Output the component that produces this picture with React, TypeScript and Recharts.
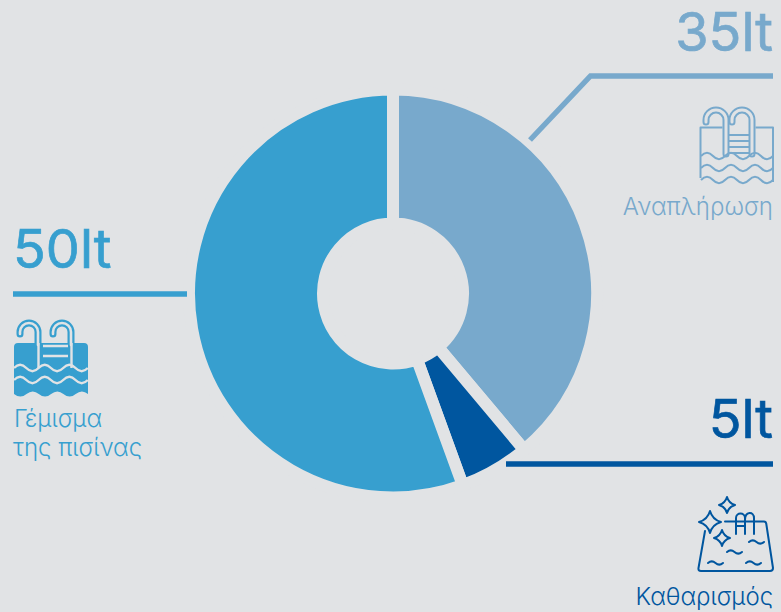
import React from 'react';
import { PieChart, Pie, Cell } from 'recharts';

const categories = ['Αναπλήρωση', 'Καθαρισμός', 'Γέμισμα της πισίνας'];
const litres = [35, 5, 50];
const unit = 'lt';
const colors = ['#78A9CC', '#00569F', '#379FCF'];
const BG = '#E1E3E5';
const FONT = 'Inter, "Liberation Sans", Arial, sans-serif';

const pieData = categories.map((name, i) => ({ name, value: litres[i] }));

const waveLine = (x0: number, y: number, n: number, w: number, a = 3.2) => {
  let d = `M${x0} ${y}`;
  for (let i = 0; i < n; i++) {
    const s = i % 2 === 0 ? -a : a;
    d += ` q${w / 2} ${s * 2} ${w} 0`;
  }
  return d;
};

// ladder handle drawn as a hollow tube
const Tube = ({ d, color, w = 7, inner = 3 }: any) => (
  <g fill="none" strokeLinecap="round">
    <path d={d} stroke={color} strokeWidth={w} />
    <path d={d} stroke={BG} strokeWidth={inner} />
  </g>
);

// outlined pool with ladder
const PoolOutline = ({ color }: { color: string }) => (
  <g>
    <Tube color={color} d="M726 154 V120 A10 10 0 0 0 706 120 V122" />
    <Tube color={color} d="M752 154 V120 A10 10 0 0 0 732 120 V122" />
    <g fill="none" stroke={color} strokeWidth={2} strokeLinejoin="round">
      <path d="M722.5 127.5 H700.5 V178" />
      <path d="M755.5 127.5 H773 V182" />
      <path d="M729 135 H749 M729 141 H749 M729 147 H749 M729 153 H749" />
      <path d={waveLine(701, 156, 6, 12)} />
      <path d={waveLine(701, 168, 6, 12)} />
      <path d={waveLine(701, 180, 6, 12)} />
    </g>
  </g>
);

// filled pool with ladder
const PoolFilled = ({ color }: { color: string }) => (
  <g>
    <path
      d={`M14 347 Q14 343 18 343 H84 Q88 343 88 347 V394 q-6 -5 -12.3 0 q-6 5 -12.3 0 q-6 -5 -12.3 0 q-6 5 -12.3 0 q-6 -5 -12.3 0 q-6 5 -12.5 0 Z`}
      fill={color}
    />
    <Tube color={color} w={7} inner={2.6} d="M38 345 V332 A9 9 0 0 0 20 332 V334" />
    <Tube color={color} w={7} inner={2.6} d="M71 345 V332 A9 9 0 0 0 53 332 V334" />
    <g fill="none" stroke={BG} strokeWidth={2.4}>
      <path d="M38.5 343 V368 M71.5 343 V368" />
      <path d="M43 346 H68 M43 356 H68" />
      <path d={waveLine(14, 368, 6, 12.3)} />
      <path d={waveLine(14, 380, 6, 12.3)} />
    </g>
  </g>
);

const sparkle = (cx: number, cy: number, r: number) => {
  const k = r * 0.22;
  return `M${cx} ${cy - r} Q${cx + k} ${cy - k} ${cx + r} ${cy} Q${cx + k} ${cy + k} ${cx} ${cy + r} Q${cx - k} ${cy + k} ${cx - r} ${cy} Q${cx - k} ${cy - k} ${cx} ${cy - r} Z`;
};

// pool with sparkles
const PoolClean = ({ color }: { color: string }) => (
  <g fill="none" stroke={color} strokeWidth={2} strokeLinecap="round" strokeLinejoin="round">
    <path d={sparkle(727, 505, 8)} />
    <path d={sparkle(710, 522, 11)} />
    <path d={sparkle(722, 538, 8)} />
    <path d="M725 521.5 H764 Q766 521.5 766.3 524 L773 568 Q773 571 770 571 H701 Q698 571 698.5 568 L705 531" />
    <path d="M736 534 V518 C736 512 745 512 745 518 V534" />
    <path d="M745 520 C745 511 754 511 754 518 V534" />
    <path d="M736 526 H745" />
    <path d={waveLine(749, 542, 2, 7.5, 1.6)} />
    <path d={waveLine(727, 552, 2, 7.5, 1.6)} />
    <path d={waveLine(708, 563, 2, 7.5, 1.6)} />
    <path d={waveLine(746, 563, 2, 7.5, 1.6)} />
  </g>
);

const BigText = ({ x, y, anchor, fill, children }: any) => (
  <text x={x} y={y} textAnchor={anchor} fill={fill} stroke={fill} strokeWidth={0.7} fontFamily={FONT} fontSize={54}>{children}</text>
);

const SmallText = ({ x, y, anchor, fill, children }: any) => (
  <text x={x} y={y} textAnchor={anchor} fill={fill} fontFamily={FONT} fontSize={24} fontWeight={300}>{children}</text>
);

export default function App() {
  return (
    <div style={{ position: 'absolute', left: 0, top: 0, width: 781, height: 612, background: BG, overflow: 'hidden' }}>
      <PieChart width={781} height={612} margin={{ top: 0, right: 0, bottom: 0, left: 0 }}>
        <Pie
          data={pieData}
          dataKey="value"
          nameKey="name"
          cx={393}
          cy={293.5}
          innerRadius={70}
          outerRadius={204}
          startAngle={90}
          endAngle={-270}
          stroke={BG}
          strokeWidth={12}
          isAnimationActive={false}
        >
          {pieData.map((d, i) => (
            <Cell key={d.name} fill={colors[i]} stroke={BG} strokeWidth={12} />
          ))}
        </Pie>
      </PieChart>

      <svg width={781} height={612} style={{ position: 'absolute', left: 0, top: 0, pointerEvents: 'none' }}>
        {/* top right: αναπλήρωση */}
        <path d="M530 140 L590.5 76 H773" fill="none" stroke={colors[0]} strokeWidth={5.4} />
        <BigText x={773} y={51} anchor="end" fill={colors[0]}>{litres[0]}{unit}</BigText>
        <PoolOutline color={colors[0]} />
        <SmallText x={773} y={215} anchor="end" fill={colors[0]}>{categories[0]}</SmallText>

        {/* bottom right: καθαρισμός */}
        <path d="M506 464 H773" fill="none" stroke={colors[1]} strokeWidth={5.4} />
        <BigText x={773} y={438} anchor="end" fill={colors[1]}>{litres[1]}{unit}</BigText>
        <PoolClean color={colors[1]} />
        <SmallText x={773} y={605} anchor="end" fill={colors[1]}>{categories[1]}</SmallText>

        {/* left: γέμισμα */}
        <path d="M13 294 H187" fill="none" stroke={colors[2]} strokeWidth={5.4} />
        <BigText x={13} y={268} anchor="start" fill={colors[2]}>{litres[2]}{unit}</BigText>
        <PoolFilled color={colors[2]} />
        <SmallText x={14} y={427} anchor="start" fill={colors[2]}>Γέμισμα</SmallText>
        <SmallText x={13} y={456} anchor="start" fill={colors[2]}>της πισίνας</SmallText>
      </svg>
    </div>
  );
}
